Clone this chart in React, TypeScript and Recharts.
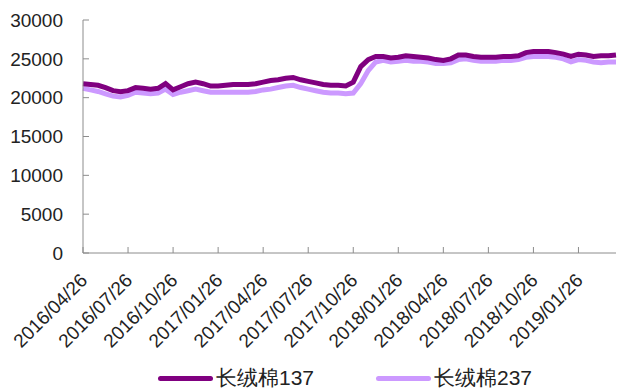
import React from "react";
import { Legend, Line, LineChart, XAxis, YAxis } from "recharts";

const dates = [
  "2016/04/26", "2016/05/11", "2016/05/26", "2016/06/11", "2016/06/26", "2016/07/11",
  "2016/07/26", "2016/08/11", "2016/08/26", "2016/09/11", "2016/09/26", "2016/10/11",
  "2016/10/26", "2016/11/11", "2016/11/26", "2016/12/11", "2016/12/26", "2017/01/11",
  "2017/01/26", "2017/02/11", "2017/02/26", "2017/03/11", "2017/03/26", "2017/04/11",
  "2017/04/26", "2017/05/11", "2017/05/26", "2017/06/11", "2017/06/26", "2017/07/11",
  "2017/07/26", "2017/08/11", "2017/08/26", "2017/09/11", "2017/09/26", "2017/10/11",
  "2017/10/26", "2017/11/11", "2017/11/26", "2017/12/11", "2017/12/26", "2018/01/11",
  "2018/01/26", "2018/02/11", "2018/02/26", "2018/03/11", "2018/03/26", "2018/04/11",
  "2018/04/26", "2018/05/11", "2018/05/26", "2018/06/11", "2018/06/26", "2018/07/11",
  "2018/07/26", "2018/08/11", "2018/08/26", "2018/09/11", "2018/09/26", "2018/10/11",
  "2018/10/26", "2018/11/11", "2018/11/26", "2018/12/11", "2018/12/26", "2019/01/11",
  "2019/01/26", "2019/02/11", "2019/02/26", "2019/03/11", "2019/03/26", "2019/04/11",
];

// 长绒棉137
const cotton137 = [
  21800, 21700, 21600, 21300, 20900, 20750, 20900, 21300, 21200, 21100, 21200, 21800,
  21000, 21400, 21800, 22000, 21800, 21500, 21500, 21600, 21700, 21700, 21700, 21800,
  22000, 22200, 22300, 22500, 22600, 22300, 22100, 21900, 21700, 21600, 21600, 21500,
  22000, 24000, 24900, 25300, 25300, 25100, 25200, 25400, 25300, 25200, 25100, 24900,
  24800, 25000, 25500, 25500, 25300, 25200, 25200, 25200, 25300, 25300, 25400, 25800,
  25950, 25950, 25950, 25800, 25600, 25300, 25600, 25500, 25300, 25400, 25400, 25500,
];

// 长绒棉237
const cotton237 = [
  21200, 21000, 20800, 20500, 20200, 20100, 20300, 20700, 20600, 20500, 20600, 21100,
  20400, 20700, 20900, 21100, 20900, 20700, 20700, 20700, 20700, 20700, 20700, 20800,
  21000, 21100, 21300, 21500, 21600, 21300, 21100, 20900, 20700, 20600, 20600, 20500,
  20600, 21800, 23500, 24600, 24800, 24600, 24700, 24800, 24700, 24700, 24600, 24400,
  24400, 24500, 24900, 25000, 24800, 24700, 24700, 24700, 24800, 24800, 24900, 25200,
  25300, 25300, 25300, 25200, 25000, 24600, 24900, 24800, 24600, 24500, 24600, 24600,
];

const yTicks = [0, 5000, 10000, 15000, 20000, 25000, 30000];

const DARK = "#800080";
const LIGHT = "#cc99ff";
const AXIS = "#8c8c8c";
const FONT = "'Liberation Sans', Arial, sans-serif";

const rows = dates.map((d, i) => ({ date: d, a: cotton137[i], b: cotton237[i] }));

function LegendBox() {
  const items = [
    { label: "长绒棉137", color: DARK },
    { label: "长绒棉237", color: LIGHT },
  ];
  return (
    <div style={{ display: "flex", justifyContent: "center", alignItems: "center", height: 24, gap: 62, paddingLeft: 74 }}>
      {items.map((it) => (
        <div key={it.label} style={{ display: "flex", alignItems: "center" }}>
          <span style={{ display: "inline-block", width: 55, height: 5, borderRadius: 3, background: it.color, marginRight: 3 }} />
          <span style={{ fontFamily: FONT, fontSize: 21, color: "#222" }}>{it.label}</span>
        </div>
      ))}
    </div>
  );
}

export default function App() {
  return (
    <div style={{ position: "absolute", left: 0, top: 0, width: 617, height: 390, background: "#fff" }}>
      <LineChart width={617} height={390} data={rows} margin={{ top: 20, right: 1, bottom: 0, left: 0 }}>
        <XAxis
          dataKey="date"
          interval={5}
          stroke={AXIS}
          tickSize={-6}
          tickMargin={25}
          angle={-45}
          textAnchor="end"
          height={113}
          dx={-4}
          tick={{ fill: "#222", fontSize: 19, fontFamily: FONT }}
        />
        <YAxis
          domain={[0, 30000]}
          ticks={yTicks}
          width={83}
          stroke={AXIS}
          tickSize={-6}
          tickMargin={26}
          tick={{ fill: "#222", fontSize: 19, fontFamily: FONT }}
        />
        <Legend verticalAlign="bottom" content={() => <LegendBox />} />
        <Line dataKey="b" stroke={LIGHT} strokeWidth={5} dot={false} isAnimationActive={false} />
        <Line dataKey="a" stroke={DARK} strokeWidth={5} dot={false} isAnimationActive={false} />
      </LineChart>
    </div>
  );
}
